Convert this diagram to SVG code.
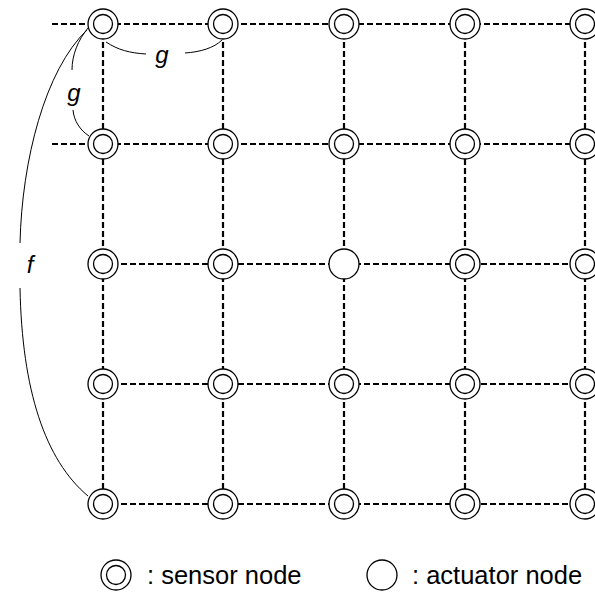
<svg xmlns="http://www.w3.org/2000/svg" width="595" height="597" viewBox="0 0 595 597">
  <style>
    .grid { stroke: #000; stroke-width: 2.2; stroke-dasharray: 6 3; fill: none; }
    .outer { fill: #fff; stroke: #000; stroke-width: 1.3; }
    .inner { fill: none; stroke: #000; stroke-width: 1.3; }
    .dim { fill: none; stroke: #000; stroke-width: 1; }
    .lbl { font-family: "Liberation Sans", Arial, sans-serif; font-size: 24px; font-style: italic; fill: #000; }
    .leg { font-family: "Liberation Sans", Arial, sans-serif; font-size: 25.5px; fill: #000; }
  </style>
  <defs>
    <g id="sensor">
      <circle class="outer" r="15"/>
      <circle class="inner" r="9.5"/>
    </g>
  </defs>

  <!-- dashed links of the grid -->
  <g id="connectors">
    <line class="grid" x1="52" y1="24" x2="585" y2="24"/>
    <line class="grid" x1="52" y1="144" x2="585" y2="144"/>
    <line class="grid" x1="103" y1="264" x2="585" y2="264"/>
    <line class="grid" x1="103" y1="384" x2="585" y2="384"/>
    <line class="grid" x1="103" y1="504" x2="585" y2="504"/>
    <line class="grid" x1="103" y1="24" x2="103" y2="504"/>
    <line class="grid" x1="223" y1="24" x2="223" y2="504"/>
    <line class="grid" x1="344" y1="24" x2="344" y2="504"/>
    <line class="grid" x1="465" y1="24" x2="465" y2="504"/>
    <line class="grid" x1="585" y1="24" x2="585" y2="504"/>
  </g>

  <!-- spacing annotations -->
  <g id="dimensions">
    <path class="dim" d="M106,42 C118,50 130,53 146,54"/>
    <path class="dim" d="M185,53 C200,52 214,48 222,40"/>
    <path class="dim" d="M88,28 C78,40 72,55 72,70"/>
    <path class="dim" d="M73,110 C74,121 80,130 89,136"/>
    <path class="dim" d="M87,30 C45,70 22,160 20,243"/>
    <path class="dim" d="M20,288 C22,390 45,460 88,496"/>
    <text class="lbl" x="162" y="63" text-anchor="middle">g</text>
    <text class="lbl" x="74" y="101" text-anchor="middle">g</text>
    <text class="lbl" x="30" y="273" text-anchor="middle">f</text>
  </g>

  <!-- row 1 -->
  <use id="n11" href="#sensor" x="103" y="24"/>
  <use id="n12" href="#sensor" x="223" y="24"/>
  <use id="n13" href="#sensor" x="344" y="24"/>
  <use id="n14" href="#sensor" x="465" y="24"/>
  <use id="n15" href="#sensor" x="585" y="24"/>
  <!-- row 2 -->
  <use id="n21" href="#sensor" x="103" y="144"/>
  <use id="n22" href="#sensor" x="223" y="144"/>
  <use id="n23" href="#sensor" x="344" y="144"/>
  <use id="n24" href="#sensor" x="465" y="144"/>
  <use id="n25" href="#sensor" x="585" y="144"/>
  <!-- row 3 -->
  <use id="n31" href="#sensor" x="103" y="264"/>
  <use id="n32" href="#sensor" x="223" y="264"/>
  <g id="n33"><circle class="outer" cx="344" cy="264" r="15"/></g>
  <use id="n34" href="#sensor" x="465" y="264"/>
  <use id="n35" href="#sensor" x="585" y="264"/>
  <!-- row 4 -->
  <use id="n41" href="#sensor" x="103" y="384"/>
  <use id="n42" href="#sensor" x="223" y="384"/>
  <use id="n43" href="#sensor" x="344" y="384"/>
  <use id="n44" href="#sensor" x="465" y="384"/>
  <use id="n45" href="#sensor" x="585" y="384"/>
  <!-- row 5 -->
  <use id="n51" href="#sensor" x="103" y="504"/>
  <use id="n52" href="#sensor" x="223" y="504"/>
  <use id="n53" href="#sensor" x="344" y="504"/>
  <use id="n54" href="#sensor" x="465" y="504"/>
  <use id="n55" href="#sensor" x="585" y="504"/>

  <!-- legend -->
  <g id="legend">
    <use href="#sensor" x="116" y="575"/>
    <text class="leg" x="147" y="584">: sensor node</text>
    <circle class="outer" cx="382" cy="575" r="15"/>
    <text class="leg" x="412" y="584">: actuator node</text>
  </g>
</svg>
